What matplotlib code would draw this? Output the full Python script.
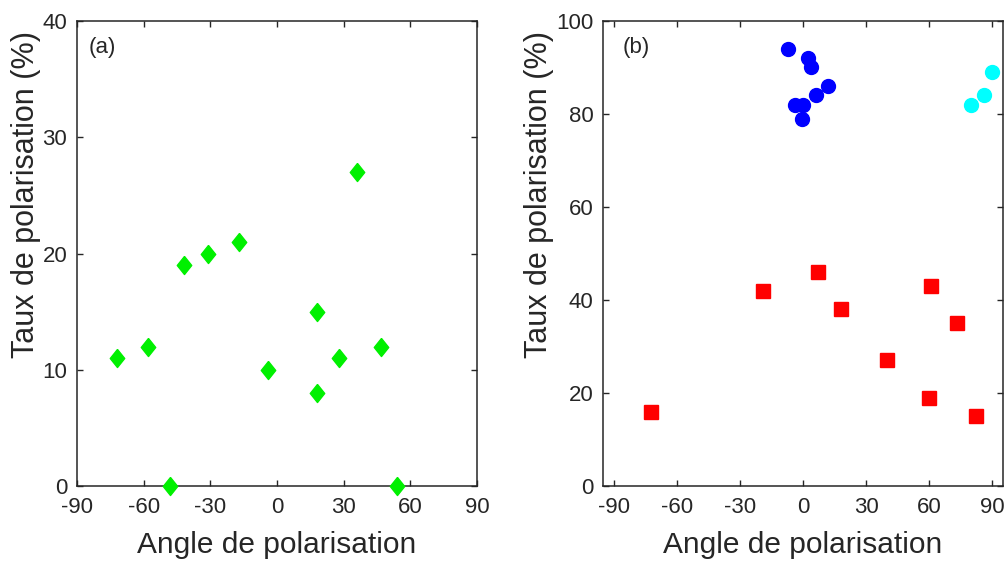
import matplotlib
matplotlib.use("Agg")
import matplotlib.pyplot as plt

# Panel (a)
a_angle = [36, -42, -31, -17, 18, -72, -58, -4, 18, 28, 47, -48, 54]
a_rate = [27, 19, 20, 21, 15, 11, 12, 10, 8, 11, 12, 0, 0]

# Panel (b)
b_blue_angle = [-7, 2.5, 4, 12, 6, -4, 0, -0.5]
b_blue_rate = [94, 92, 90, 86, 84, 82, 82, 79]
b_cyan_angle = [80, 86, 90]
b_cyan_rate = [82, 84, 89]
b_red_angle = [-72, -19, 7, 18, 40, 61, 60, 73, 82]
b_red_rate = [16, 42, 46, 38, 27, 43, 19, 35, 15]

x_ticks = [-90, -60, -30, 0, 30, 60, 90]
a_yticks = [0, 10, 20, 30, 40]
b_yticks = [0, 20, 40, 60, 80, 100]

xlabel = "Angle de polarisation"
ylabel = "Taux de polarisation (%)"

plt.rcParams['font.family'] = ['Liberation Sans', 'DejaVu Sans']
plt.rcParams['axes.unicode_minus'] = False
TXT = '#262626'

fig = plt.figure(figsize=(10.05, 5.61), dpi=100)
W, H = 1005, 561
ax1 = fig.add_axes([77 / W, 75 / H, 400 / W, 465 / H])
ax2 = fig.add_axes([603 / W, 75 / H, 400 / W, 465 / H])

diamond = [(0, 1), (0.8, 0), (0, -1), (-0.8, 0), (0, 1)]

ax1.plot(a_angle, a_rate, linestyle='none', marker=diamond, markersize=13,
         color='#00F000', mec='#00F000', clip_on=False, zorder=3)
ax2.plot(b_blue_angle, b_blue_rate, linestyle='none', marker='o', markersize=10,
         color='#0000FF', mec='#0000FF', clip_on=False, zorder=3)
ax2.plot(b_cyan_angle, b_cyan_rate, linestyle='none', marker='o', markersize=10,
         color='#00FFFF', mec='#00FFFF', clip_on=False, zorder=3)
ax2.plot(b_red_angle, b_red_rate, linestyle='none', marker='s', markersize=9.4,
         color='#FF0000', mec='#FF0000', clip_on=False, zorder=3)

ax1.set_xlim(-90, 90)
ax1.set_ylim(0, 40)
ax1.set_yticks(a_yticks)
ax2.set_xlim(-95, 95)
ax2.set_ylim(0, 100)
ax2.set_yticks(b_yticks)

for ax, lab, lx, ylx in [(ax1, '(a)', 0.03, -0.1275), (ax2, '(b)', 0.05, -0.159)]:
    ax.set_xticks(x_ticks)
    ax.tick_params(direction='in', length=4, width=1.0, top=True, right=True,
                   labelsize=16, colors=TXT)
    ax.tick_params(axis='x', pad=8)
    ax.tick_params(axis='y', pad=7)
    for s in ax.spines.values():
        s.set_color(TXT)
        s.set_linewidth(1.1)
    ax.set_xlabel(xlabel, fontsize=21.5, color=TXT)
    ax.set_ylabel(ylabel, fontsize=22, color=TXT)
    ax.xaxis.label.set_verticalalignment('center')
    ax.xaxis.set_label_coords(0.5, -0.127)
    ax.yaxis.label.set_verticalalignment('center')
    ax.yaxis.set_label_coords(ylx, 0.626)
    ax.text(lx, 0.943, lab, transform=ax.transAxes, fontsize=16, color=TXT,
            ha='left', va='center')

fig.savefig('out.png', dpi=100)
